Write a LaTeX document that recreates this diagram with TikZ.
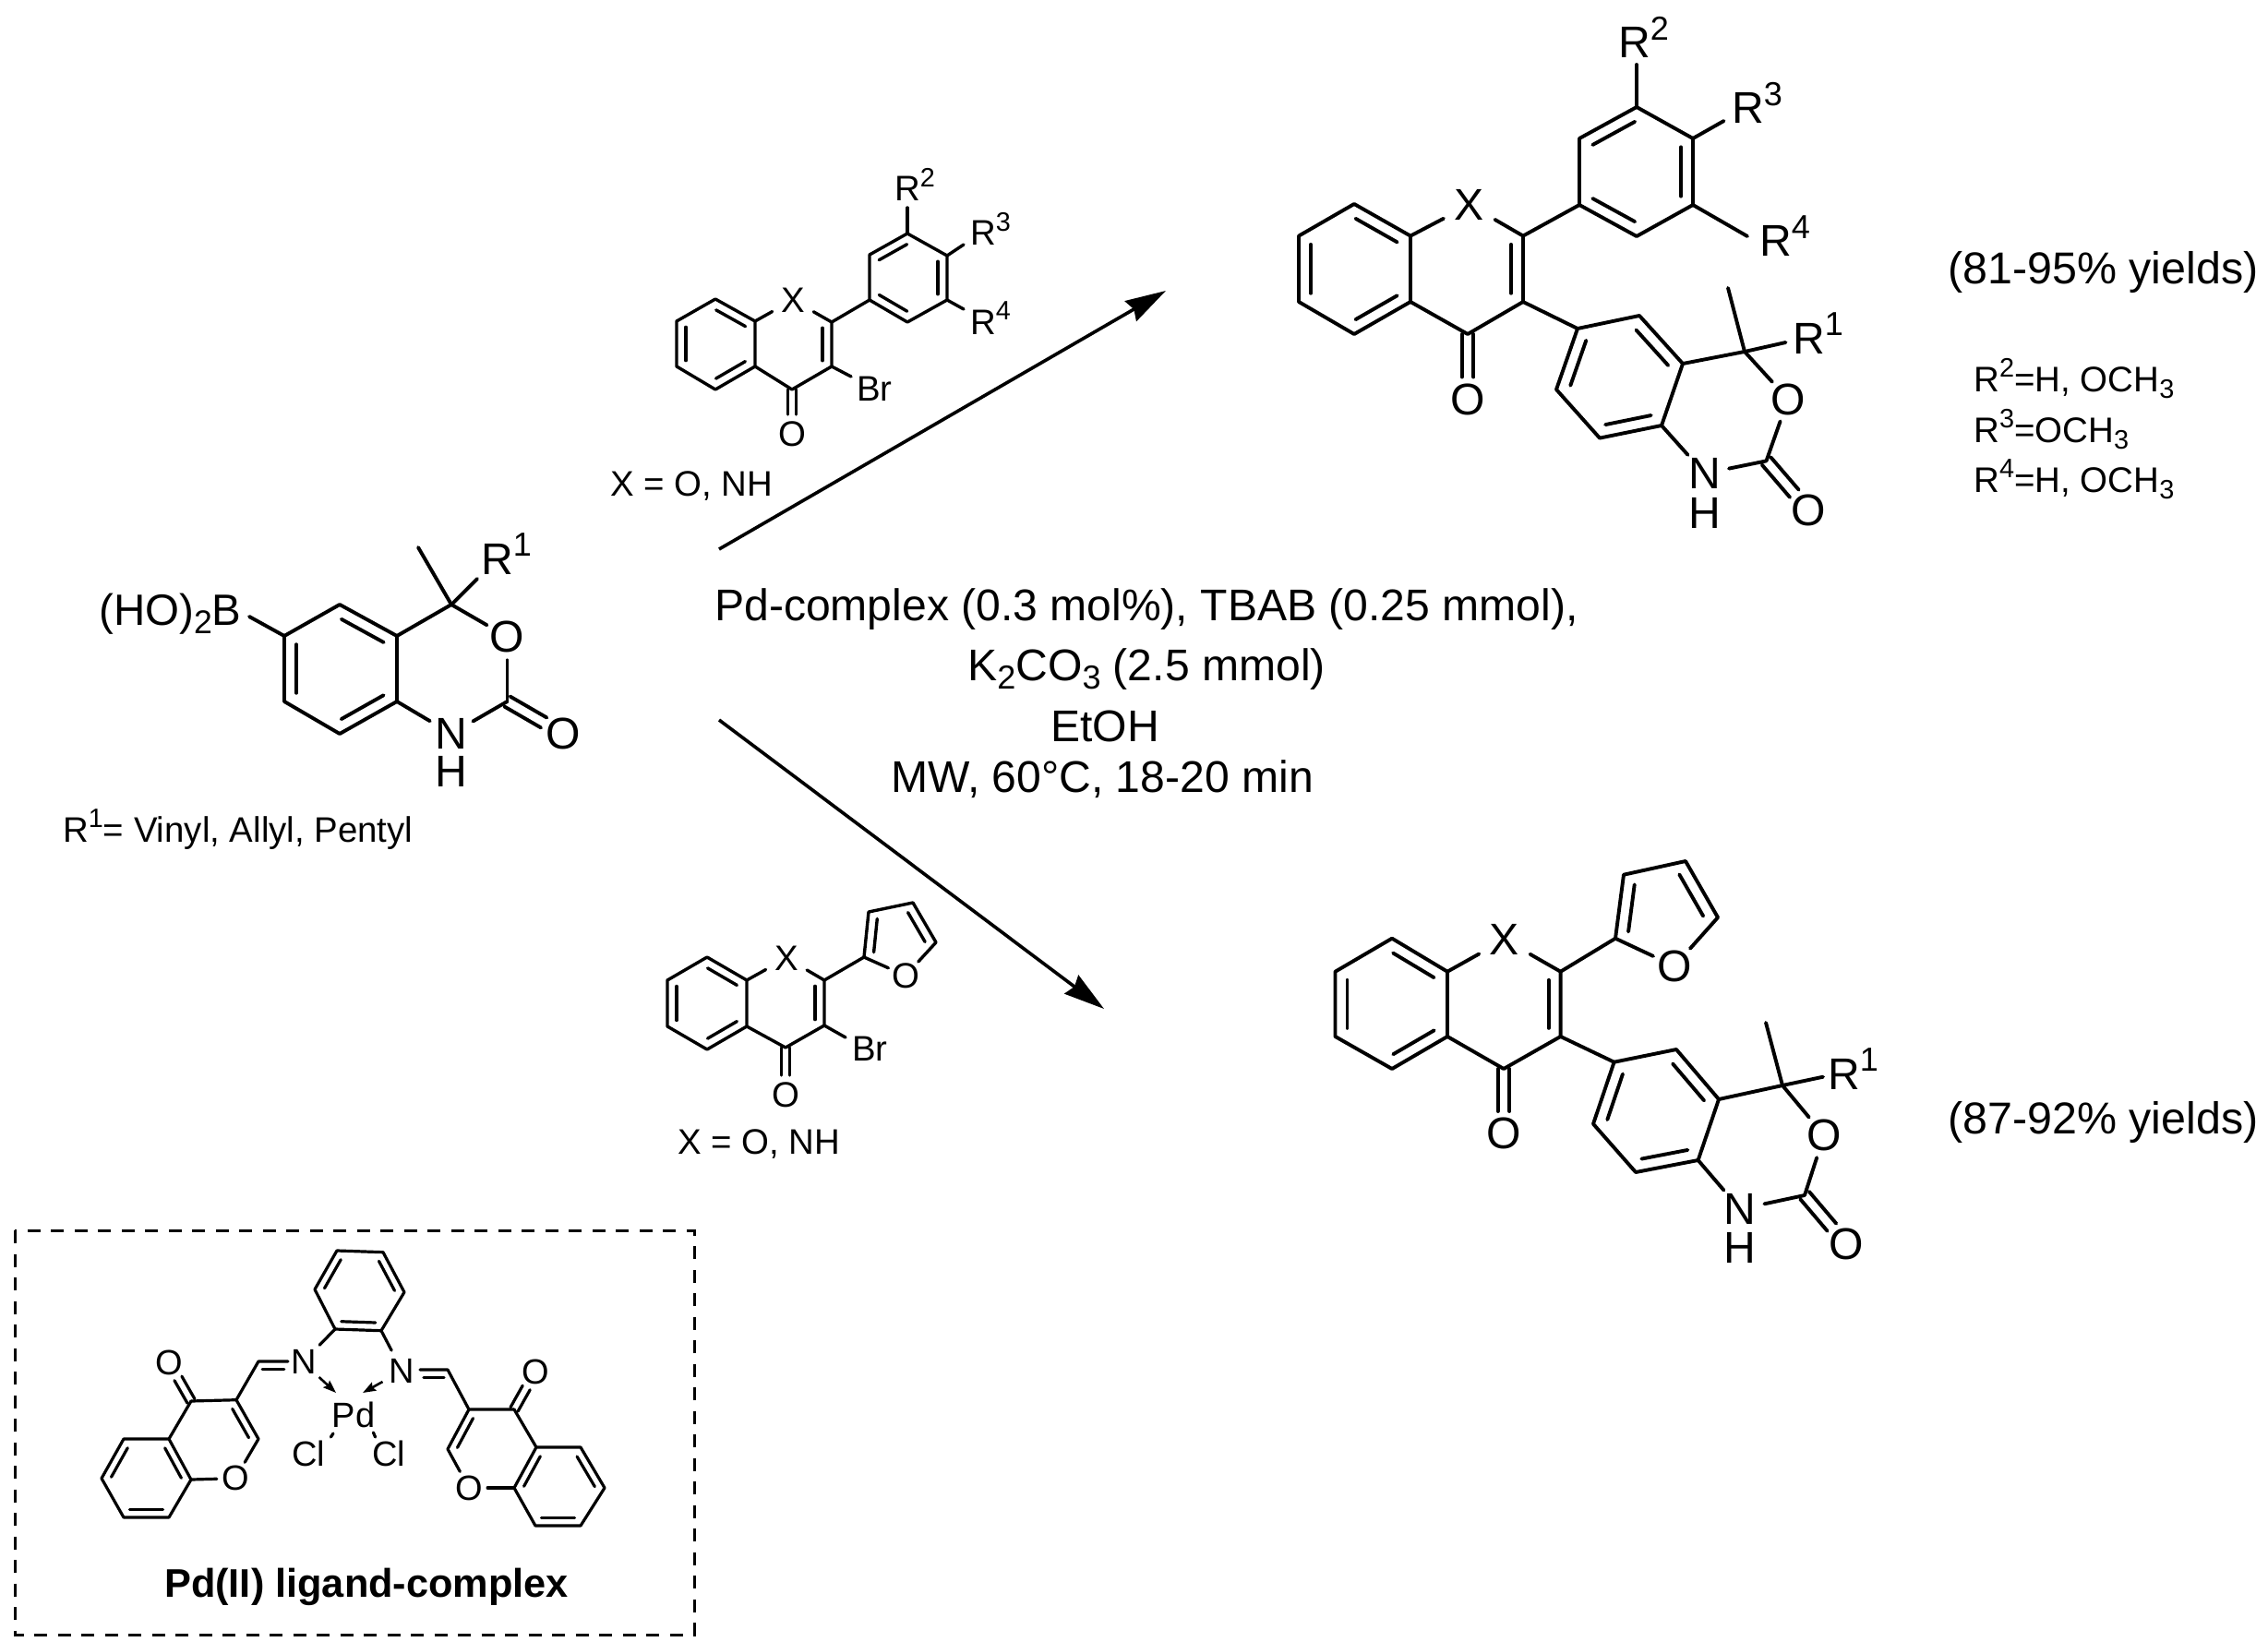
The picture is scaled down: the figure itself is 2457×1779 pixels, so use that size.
\documentclass[tikz,border=0pt]{standalone}
\usepackage{fontspec}
\usepackage{graphicx}
\setmainfont{Liberation Sans}
\usetikzlibrary{calc,arrows.meta}
\newcommand{\sups}[1]{\raisebox{.4em}{\scalebox{.75}{#1}}}
\newcommand{\subs}[1]{\raisebox{-.2em}{\scalebox{.75}{#1}}}
\def\dbloff{13pt}
\def\cdoff{6.3pt}
% inner line of a double bond, on the right hand of travel from #1 to #2
\newcommand{\dbl}[2]{\draw[bond] ($(#1)!.13!(#2)!\dbloff!-90:(#2)$) -- ($(#2)!.13!(#1)!\dbloff!90:(#1)$);}
% symmetric double bond, stopping #3 before the centre of #2
\newcommand{\cdbl}[3]{\draw[bond,shorten >=#3] ($(#1)!\cdoff!90:(#2)$) -- ($(#2)!\cdoff!-90:(#1)$);
  \draw[bond,shorten >=#3] ($(#1)!\cdoff!-90:(#2)$) -- ($(#2)!\cdoff!90:(#1)$);}
\newcommand{\pts}[1]{\foreach \n/\x/\y in {#1} \coordinate (\n) at (\x,\y);}
\tikzset{
  bond/.style={line width=3.9pt,line join=round,line cap=round},
  atomL/.style={circle,font=\fontsize{48.1}{52}\selectfont,inner sep=0pt},
  atomM/.style={circle,font=\fontsize{38.4}{42}\selectfont,inner sep=0pt},
  atomS/.style={circle,font=\fontsize{38}{42}\selectfont,inner sep=0pt},
  labL/.style={font=\fontsize{48.1}{52}\selectfont,anchor=base west,inner sep=0pt},
  labM/.style={font=\fontsize{38.4}{42}\selectfont,anchor=base west,inner sep=0pt},
  labT/.style={font=\fontsize{38.5}{42}\selectfont,anchor=base west,inner sep=0pt},
  rxn/.style={line width=3.6pt,-{Stealth[length=44pt,width=25pt,inset=4pt]}},
  dative/.style={line width=2.6pt,-{Stealth[length=14pt,width=10pt,inset=2pt]}},
  framebox/.style={line width=3pt,dash pattern=on 14pt off 11.5pt}
}
\begin{document}
\begin{tikzpicture}[x=1pt,y=-1pt]
\useasboundingbox (0,0) rectangle (2457,1779);

% ---------- starting boronic acid ----------
\pts{r1/308/689,r2/368/655,r3/430/689,r4/430/760,r5/368/795,r6/308/760,rq/489/655,rme/453/593,rrb/517/627,rcc/549.5/760,rbb/270/668}
\node[atomL] (rO) at (549.5,690) {O};
\node[atomL,inner sep=2pt] (rN) at (489,795) {N};
\node[atomL,inner sep=-8pt] (rH) at (489,836) {H};
\node[atomL] (rO2) at (610,795) {O};
\node[labL] (rR) at (521,622) {R\sups{1}};
\node[labL,font=\fontsize{47.5}{52}\selectfont] (rB) at (107,677) {(HO)\subs{2}B};
\draw[bond] (r1)--(r2)--(r3)--(r4)--(r5)--(r6)--cycle;
\dbl{r2}{r3}\dbl{r4}{r5}\dbl{r6}{r1}
\draw[bond] (rbb)--(r1);
\draw[bond] (r3)--(rq); \draw[bond] (rq)--(rme); \draw[bond] (rq)--(rrb);
\draw[bond] (rq)--(rO); \draw[bond] (rO)--(rcc); \draw[bond] (rcc)--(rN); \draw[bond] (rN)--(r4);
\cdbl{rcc}{rO2}{24pt}
\node[labM] (rtxt) at (68,912) {R\sups{1}= Vinyl, Allyl, Pentyl};

% ---------- product with aryl group ----------
\pts{a1/1407/255.6,a2/1467/221,a3/1528/255.6,a4/1528/327,a5/1467/362,a6/1407/327,a7/1650/255.6,a8/1650/327,a9/1590/362,
p1/1711/222,p2/1711/150,p3/1773/116,p4/1834/150,p5/1834/222,p6/1773/256,
b1/1709/356,b2/1776/342,b3/1823/394,b4/1800/461,b5/1733/474.6,b6/1686/422,
aq/1890/381,ame/1872/312,acc/1913.5/499.4,ar1/1934.5/371,ar2/1773/70,ar3/1867.5/131,ar4/1893/256}
\node[atomL,inner sep=6pt] (aX) at (1592,222) {X};
\node[atomL] (aO) at (1590,432.5) {O};
\node[atomL] (aO1) at (1937,432.5) {O};
\node[atomL,inner sep=2pt] (aN) at (1846.5,513) {N};
\node[atomL,inner sep=-8pt] (aH) at (1846.5,556) {H};
\node[atomL] (aO2) at (1959.5,553) {O};
\node[labL] (aR1) at (1942,383) {R\sups{1}};
\node[labL] (aR2) at (1753,62.4) {R\sups{2}};
\node[labL] (aR3) at (1876,134) {R\sups{3}};
\node[labL] (aR4) at (1906,277.5) {R\sups{4}};
\draw[bond] (a1)--(a2)--(a3)--(a4)--(a5)--(a6)--cycle;
\dbl{a6}{a1}\dbl{a2}{a3}\dbl{a4}{a5}
\draw[bond] (a3)--(aX); \draw[bond] (aX)--(a7); \draw[bond] (a7)--(a8)--(a9)--(a4);
\dbl{a7}{a8}
\cdbl{a9}{aO}{24pt}
\draw[bond] (a7)--(p1);
\draw[bond] (p1)--(p2)--(p3)--(p4)--(p5)--(p6)--cycle;
\dbl{p2}{p3}\dbl{p4}{p5}\dbl{p6}{p1}
\draw[bond] (p3)--(ar2); \draw[bond] (p4)--(ar3); \draw[bond] (p5)--(ar4);
\draw[bond] (a8)--(b1);
\draw[bond] (b1)--(b2)--(b3)--(b4)--(b5)--(b6)--cycle;
\dbl{b2}{b3}\dbl{b4}{b5}\dbl{b6}{b1}
\draw[bond] (b3)--(aq); \draw[bond] (aq)--(ame); \draw[bond] (aq)--(ar1);
\draw[bond] (aq)--(aO1); \draw[bond] (aO1)--(acc); \draw[bond] (acc)--(aN); \draw[bond] (aN)--(b4);
\cdbl{acc}{aO2}{24pt}

% ---------- product with furyl group ----------
\pts{c1/1446.5/1052.7,c2/1508/1016.7,c3/1568/1052.7,c4/1568/1123,c5/1508/1158,c6/1446.5/1123,c7/1690.6/1052.7,c8/1690.6/1123,c9/1629/1158,
f1/1750/1016.7,f2/1759/947.7,f3/1826/933,f4/1861/994,
d1/1748.6/1150.7,d2/1816/1137,d3/1862/1191,d4/1839.6/1257,d5/1772/1270,d6/1726/1217.7,
cq/1931/1176,cme/1913/1108,ccc/1955/1295,cr1/1975/1166.7}
\node[atomL,inner sep=6pt] (cX) at (1630,1018) {X};
\node[atomL] (cO) at (1629,1228) {O};
\node[atomL] (cF) at (1814,1046.7) {O};
\node[atomL] (cO1) at (1976,1230) {O};
\node[atomL,inner sep=2pt] (cN) at (1885,1310) {N};
\node[atomL,inner sep=-8pt] (cH) at (1885,1352) {H};
\node[atomL] (cO2) at (2000,1348) {O};
\node[labL] (cR1) at (1980,1180) {R\sups{1}};
\draw[bond] (c1)--(c2)--(c3)--(c4)--(c5)--(c6)--cycle;
\dbl{c6}{c1}\dbl{c2}{c3}\dbl{c4}{c5}
\draw[bond] (c3)--(cX); \draw[bond] (cX)--(c7); \draw[bond] (c7)--(c8)--(c9)--(c4);
\dbl{c7}{c8}
\cdbl{c9}{cO}{24pt}
\draw[bond] (c7)--(f1);
\draw[bond] (f1)--(f2)--(f3)--(f4); \draw[bond] (f4)--(cF); \draw[bond] (cF)--(f1);
\dbl{f1}{f2}\dbl{f3}{f4}
\draw[bond] (c8)--(d1);
\draw[bond] (d1)--(d2)--(d3)--(d4)--(d5)--(d6)--cycle;
\dbl{d2}{d3}\dbl{d4}{d5}\dbl{d6}{d1}
\draw[bond] (d3)--(cq); \draw[bond] (cq)--(cme); \draw[bond] (cq)--(cr1);
\draw[bond] (cq)--(cO1); \draw[bond] (cO1)--(ccc); \draw[bond] (ccc)--(cN); \draw[bond] (cN)--(d4);
\cdbl{ccc}{cO2}{24pt}

% ---------- reagents ----------
\begin{scope}[bond/.append style={line width=3.4pt}]
\def\dbloff{10pt}\def\cdoff{4.7pt}
\pts{s1/733/348,s2/775/324,s3/818/348,s4/818/397,s5/775/422,s6/733/397,s7/901/349,s8/901/397,s9/858/422,
q1/942/325,q2/942/276,q3/983/253,q4/1026/277,q5/1026/325,q6/983/349,sr2/983/225,sr3/1044/265,sr4/1044/335,sbr/922/408}
\node[atomM,inner sep=5pt] (sX) at (859,325) {X};
\node[atomM] (sO) at (858,470) {O};
\node[labM] (sR2) at (969,218) {R\sups{2}};
\node[labM] (sR3) at (1051,266) {R\sups{3}};
\node[labM] (sR4) at (1051,362) {R\sups{4}};
\node[labM] (sBr) at (928,434) {Br};
\draw[bond] (s1)--(s2)--(s3)--(s4)--(s5)--(s6)--cycle;
\dbl{s6}{s1}\dbl{s2}{s3}\dbl{s4}{s5}
\draw[bond] (s3)--(sX); \draw[bond] (sX)--(s7); \draw[bond] (s7)--(s8)--(s9)--(s4);
\dbl{s7}{s8}
\cdbl{s9}{sO}{21pt}
\draw[bond] (s8)--(sbr);
\draw[bond] (s7)--(q1);
\draw[bond] (q1)--(q2)--(q3)--(q4)--(q5)--(q6)--cycle;
\dbl{q2}{q3}\dbl{q4}{q5}\dbl{q6}{q1}
\draw[bond] (q3)--(sr2); \draw[bond] (q4)--(sr3); \draw[bond] (q5)--(sr4);
\node[labM] (stxt) at (661,537) {X = O, NH};

\pts{t1/723/1062,t2/766/1037,t3/809/1062,t4/809/1112,t5/766/1137,t6/723/1112,t7/893/1062,t8/893/1111,t9/851/1135,
g1/936/1037,g2/941/988,g3/989/978,g4/1014/1021,tbr/916/1124}
\node[atomM,inner sep=5pt] (tX) at (852,1038) {X};
\node[atomM] (tO) at (851,1186) {O};
\node[atomM] (tF) at (981,1057) {O};
\node[labM] (tBr) at (923,1149) {Br};
\draw[bond] (t1)--(t2)--(t3)--(t4)--(t5)--(t6)--cycle;
\dbl{t6}{t1}\dbl{t2}{t3}\dbl{t4}{t5}
\draw[bond] (t3)--(tX); \draw[bond] (tX)--(t7); \draw[bond] (t7)--(t8)--(t9)--(t4);
\dbl{t7}{t8}
\cdbl{t9}{tO}{21pt}
\draw[bond] (t8)--(tbr);
\draw[bond] (t7)--(g1);
\draw[bond] (g1)--(g2)--(g3)--(g4); \draw[bond] (g4)--(tF); \draw[bond] (tF)--(g1);
\dbl{g1}{g2}\dbl{g3}{g4}
\node[labM] (ttxt) at (734,1250) {X = O, NH};
\end{scope}

% ---------- reaction arrows and conditions ----------
\pts{u1/779/595,u2/1263/315,v1/779/780,v2/1196/1093}
\draw[rxn] (u1)--(u2);
\draw[rxn] (v1)--(v2);
\node[labL] (l1) at (774,672) {Pd-complex (0.3 mol\%), TBAB (0.25 mmol),};
\node[labL] (l2) at (1048,737) {K\subs{2}CO\subs{3} (2.5 mmol)};
\node[labL] (l3) at (1138,803) {EtOH};
\node[labL] (l4) at (965,858) {MW, 60°C, 18-20 min};

% ---------- yields ----------
\node[labL,font=\fontsize{48.4}{52}\selectfont] (y1) at (2110,308) {(81-95\% yields)};
\node[labL,font=\fontsize{48.4}{52}\selectfont] (y2) at (2110,1228) {(87-92\% yields)};
\node[labT] (v2t) at (2138,424) {R\sups{2}=H, OCH\subs{3}};
\node[labT] (v3t) at (2138,479) {R\sups{3}=OCH\subs{3}};
\node[labT] (v4t) at (2138,533) {R\sups{4}=H, OCH\subs{3}};

% ---------- Pd complex ----------
\begin{scope}[bond/.append style={line width=3.2pt}]
\def\dbloff{8.5pt}\def\cdoff{4.6pt}
\pts{bx1/16/1333,bx2/752/1771}
\draw[framebox] (bx1) rectangle (bx2);
\pts{k1/365/1355,k2/415/1356.7,k3/438/1400,k4/413/1441.7,k5/363/1440,k6/341/1397,
l1c/280/1475,le/312/1475,lc3/256/1516.7,lc4/207/1518,lc2/280/1559,l8a/207/1603,l4a/183/1559,lb1/134/1559,lb2/110/1601.7,lb3/134/1644,lb4/183/1644,
m1c/485/1484,me/455/1484,mc3/508/1527,mc4/557/1527,mc2/485/1570,m8a/557/1612,m4a/581/1568,mb1/629/1568,mb2/655/1612,mb3/629/1653,mb4/580/1653,
da1/345.6/1492,da2/364/1509,db1/414.5/1497,db2/393/1509,
e1/361/1553,e2/358.4/1557,e3/404.4/1552,e4/406.6/1557}
\node[atomS,inner sep=4pt] (kNl) at (329,1475) {N};
\node[atomS,inner sep=4pt] (kNr) at (435.6,1485) {N};
\node[atomS] (kOl) at (183,1476) {O};
\node[atomS] (kOr) at (580,1486) {O};
\node[atomS] (kFl) at (255,1601.7) {O};
\node[atomS] (kFr) at (508,1612) {O};
\node[atomS] (kPd) at (383,1533) {Pd};
\node[atomS] (kCl1) at (334,1575) {Cl};
\node[atomS] (kCl2) at (421,1575) {Cl};
\draw[bond] (k1)--(k2)--(k3)--(k4)--(k5)--(k6)--cycle;
\dbl{k2}{k3}\dbl{k4}{k5}\dbl{k6}{k1}
\draw[bond] (k5)--(kNl); \draw[bond] (k4)--(kNr);
\draw[bond] (le)--(l1c)--(lc3)--(lc4);
\dbl{l1c}{le}
\cdbl{lc4}{kOl}{20pt}
\draw[bond] (lc3)--(lc2); \dbl{lc3}{lc2}
\draw[bond] (lc2)--(kFl); \draw[bond] (kFl)--(l8a);
\draw[bond] (lc4)--(l4a)--(l8a)--(lb4)--(lb3)--(lb2)--(lb1)--(l4a);
\dbl{l4a}{l8a}
\dbl{lb4}{lb3}
\dbl{lb2}{lb1}
\draw[bond] (me)--(m1c)--(mc3)--(mc4);
\dbl{me}{m1c}
\cdbl{mc4}{kOr}{20pt}
\draw[bond] (mc3)--(mc2); \dbl{mc2}{mc3}
\draw[bond] (mc2)--(kFr); \draw[bond] (kFr)--(m8a);
\draw[bond] (mc4)--(m4a)--(m8a)--(mb4)--(mb3)--(mb2)--(mb1)--(m4a);
\dbl{m8a}{m4a}\dbl{mb1}{mb2}\dbl{mb3}{mb4}
\draw[dative] (da1)--(da2);
\draw[dative] (db1)--(db2);
\draw[bond] (e1)--(e2); \draw[bond] (e3)--(e4);
\node[anchor=base west,inner sep=0pt,font=\bfseries\fontsize{43.3}{47}\selectfont] (kt) at (178,1730) {Pd(II) ligand-complex};
\end{scope}
\end{tikzpicture}
\end{document}
